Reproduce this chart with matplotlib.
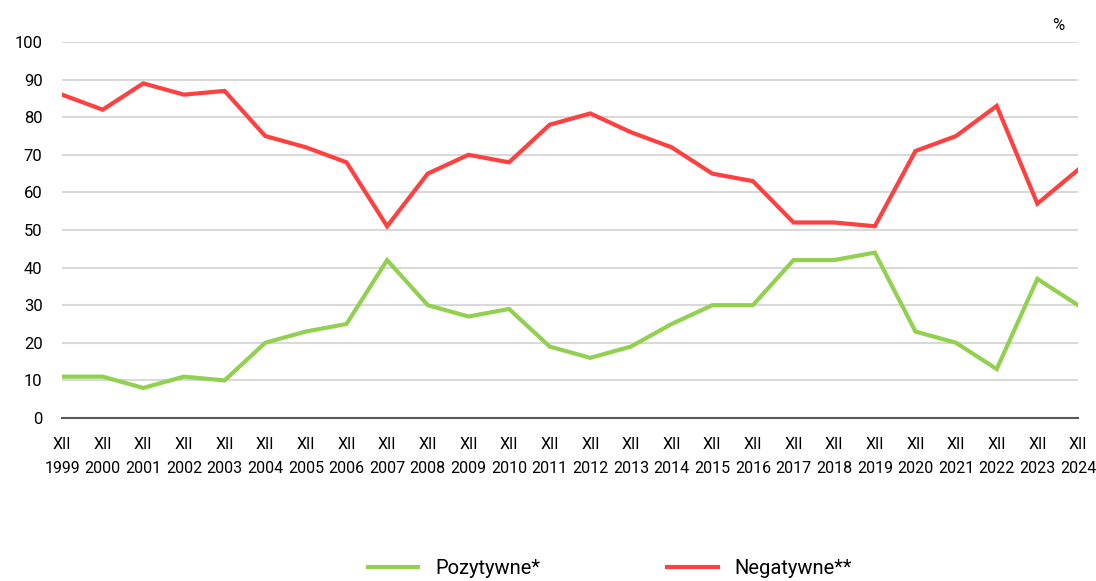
import numpy as np
import matplotlib.pyplot as plt

plt.rcParams['font.family'] = ['Roboto', 'DejaVu Sans']

years = list(range(1999, 2025))
pozytywne = [11, 11, 8, 11, 10, 20, 23, 25, 42, 30, 27, 29, 19, 16, 19, 25, 30, 30, 42, 42, 44, 23, 20, 13, 37, 30]
negatywne = [86, 82, 89, 86, 87, 75, 72, 68, 51, 65, 70, 68, 78, 81, 76, 72, 65, 63, 52, 52, 51, 71, 75, 83, 57, 66]
xlabels = ["XII\n%d" % y for y in years]

fig = plt.figure(figsize=(10.96, 5.81), dpi=100)
ax = fig.add_axes([62/1096, 1-418/581, (1078-62)/1096, (418-42)/581])

x = np.arange(len(years))
ax.plot(x, pozytywne, color="#92d050", lw=3, solid_joinstyle="miter", label="Pozytywne*")
ax.plot(x, negatywne, color="#ff4040", lw=3, solid_joinstyle="miter", label="Negatywne**")

ax.set_xlim(0, len(years) - 1)
ax.set_ylim(0, 100)
ax.set_yticks(range(0, 101, 10))
ax.yaxis.grid(True, color="#d9d9d9", lw=1.5)
ax.set_axisbelow(True)
for s in ["top", "right", "left"]:
    ax.spines[s].set_visible(False)
ax.spines["bottom"].set_color("#595959")
ax.spines["bottom"].set_linewidth(1.5)
ax.tick_params(axis="y", length=0, pad=14, labelsize=12)
ax.tick_params(axis="x", length=0, pad=14, labelsize=11.5)
ax.set_xticks(x)
ax.set_xticklabels(xlabels, linespacing=1.75)

fig.text(1058/1096, 1-25/581, "%", ha="center", va="center", fontsize=12)

fig.legend(loc="center", bbox_to_anchor=(610/1096, 1-569/581), ncol=2, frameon=False,
           fontsize=14.5, handlelength=2.5, columnspacing=6.3, handletextpad=0.85)

fig.savefig("out.png", dpi=100)
